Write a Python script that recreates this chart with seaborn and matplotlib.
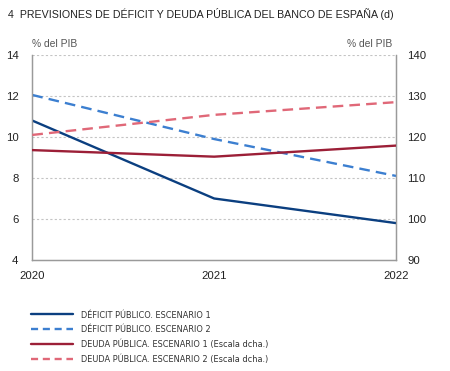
import matplotlib
matplotlib.use("Agg")
import matplotlib.pyplot as plt
import seaborn as sns
import pandas as pd
from matplotlib.lines import Line2D
from matplotlib import font_manager

sns.set_theme(style="white")
plt.rcParams['font.family'] = ['Liberation Sans', 'DejaVu Sans']

years = [2020, 2021, 2022]
deficit_esc1 = [10.8, 7.0, 5.8]
deficit_esc2 = [12.05, 9.9, 8.1]
deuda_esc1 = [116.8, 115.2, 117.9]
deuda_esc2 = [120.5, 125.4, 128.5]

labels = [
    "DÉFICIT PÚBLICO. ESCENARIO 1",
    "DÉFICIT PÚBLICO. ESCENARIO 2",
    "DEUDA PÚBLICA. ESCENARIO 1 (Escala dcha.)",
    "DEUDA PÚBLICA. ESCENARIO 2 (Escala dcha.)",
]
left_ticks = [4, 6, 8, 10, 12, 14]
right_ticks = [90, 100, 110, 120, 130, 140]
title = "4  PREVISIONES DE DÉFICIT Y DEUDA PÚBLICA DEL BANCO DE ESPAÑA (d)"

c_dblue = "#0b3f80"
c_lblue = "#3c7fd0"
c_dred = "#9c1f37"
c_pink = "#e06878"

fig = plt.figure(figsize=(4.5, 3.71), dpi=100)
ax = fig.add_axes([0.0718, 0.2992, 0.8082, 0.5526])
ax2 = ax.twinx()

lw = 1.7
dash = (4.5, 2.6)
df1 = pd.DataFrame({"year": years, "v": deficit_esc1})
df2 = pd.DataFrame({"year": years, "v": deficit_esc2})
df3 = pd.DataFrame({"year": years, "v": deuda_esc1})
df4 = pd.DataFrame({"year": years, "v": deuda_esc2})
sns.lineplot(data=df1, x="year", y="v", ax=ax, color=c_dblue, lw=lw, zorder=3)
sns.lineplot(data=df2, x="year", y="v", ax=ax, color=c_lblue, lw=lw, zorder=3).lines[-1].set_dashes(dash)
sns.lineplot(data=df3, x="year", y="v", ax=ax2, color=c_dred, lw=lw, zorder=3)
sns.lineplot(data=df4, x="year", y="v", ax=ax2, color=c_pink, lw=lw, zorder=3).lines[-1].set_dashes(dash)

ax.set_xlim(2020, 2022)
ax.set_ylim(4, 14)
ax2.set_ylim(90, 140)
ax.set_yticks(left_ticks)
ax2.set_yticks(right_ticks)
ax.set_xticks(years)
ax.set_xticklabels([str(y) for y in years])
ax.set_xlabel("")
ax.set_ylabel("")
ax2.set_ylabel("")

for g in left_ticks[1:]:
    ax.axhline(g, color="#c4c4c4", lw=0.8, ls=(0, (2.0, 2.0)), zorder=1)

for a in (ax, ax2):
    for s in a.spines.values():
        s.set_color("#9a9a9a")
        s.set_linewidth(0.9)
    a.spines["top"].set_visible(False)

ax.tick_params(axis="y", length=0, pad=10, labelsize=8.2, colors="#222222")
ax2.tick_params(axis="y", length=0, pad=8, labelsize=8.2, colors="#222222")
ax.tick_params(axis="x", direction="in", length=3, width=0.7, color="#9a9a9a",
               pad=8, labelsize=8.2, labelcolor="#222222")

fig.text(0.071, 0.868, "% del PIB", fontsize=7.4, color="#555555", ha="left", va="bottom")
fig.text(0.871, 0.868, "% del PIB", fontsize=7.4, color="#555555", ha="right", va="bottom")
fig.text(0.018, 0.963, title, fontsize=7.7, color="#222222", ha="left", va="center")

handles = [
    Line2D([], [], color=c_dblue, lw=lw),
    Line2D([], [], color=c_lblue, lw=lw, dashes=(3.0, 2.0)),
    Line2D([], [], color=c_dred, lw=lw),
    Line2D([], [], color=c_pink, lw=lw, dashes=(3.0, 2.0)),
]
avail = {f.name for f in font_manager.fontManager.ttflist}
if "Liberation Sans Narrow" in avail:
    prop = {"family": ["Liberation Sans Narrow"], "size": 7.2}
else:
    prop = {"family": ["DejaVu Sans"], "stretch": "condensed", "size": 6.6}
leg = fig.legend(handles, labels, loc="upper left",
                 frameon=False, handlelength=4.6, handletextpad=0.85,
                 labelspacing=0.6, borderaxespad=0, borderpad=0,
                 prop=prop)
leg.set_bbox_to_anchor((0.068, 0.163), transform=fig.transFigure)
for t in leg.get_texts():
    t.set_color("#333333")

fig.savefig("out.png", dpi=100)
